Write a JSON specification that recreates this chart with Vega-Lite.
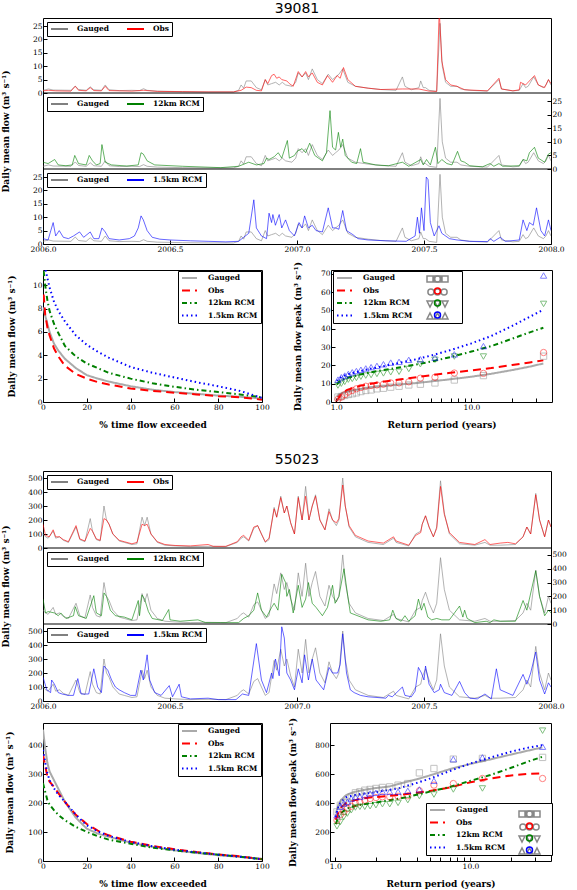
{
"$schema":"https://vega.github.io/schema/vega-lite/v6.json",
"padding":{"left":0,"top":1,"right":0,"bottom":0},
"config":{
 "view":{"stroke":"black","strokeWidth":1},
 "axis":{"domain":false,"grid":false,"tickSize":-4,"tickColor":"black","tickWidth":1,"labelFont":"DejaVu Serif","labelFontSize":7.5,"labelColor":"black","labelPadding":5,"titleFont":"DejaVu Serif","titleFontSize":9,"titleFontWeight":"bold","titleColor":"black","labelFlush":false,"labelOverlap":false},
 "axisY":{"labelOverlap":false},
 "legend":{"strokeColor":"black","fillColor":"white","padding":3,"labelFont":"DejaVu Serif","labelFontSize":7.5,"labelFontWeight":"bold","labelColor":"black","symbolOpacity":1,"symbolStrokeWidth":2,"rowPadding":4.5,"cornerRadius":0},
 "title":{"font":"DejaVu Sans","fontSize":14,"fontWeight":"normal","color":"black","offset":2}
},
"datasets":{
"one":[{"k":1}],
"g1":[{"t":2006,"v":1},{"t":2006.022,"v":1.5},{"t":2006.04,"v":1.1},{"t":2006.11,"v":1},{"t":2006.127,"v":2.6},{"t":2006.14,"v":1.3},{"t":2006.17,"v":1},{"t":2006.186,"v":2.3},{"t":2006.2,"v":1.2},{"t":2006.23,"v":1},{"t":2006.245,"v":3},{"t":2006.26,"v":1.2},{"t":2006.3,"v":0.9},{"t":2006.35,"v":1},{"t":2006.38,"v":0.9},{"t":2006.396,"v":1.6},{"t":2006.41,"v":1},{"t":2006.45,"v":0.7},{"t":2006.55,"v":0.5},{"t":2006.65,"v":0.4},{"t":2006.75,"v":0.4},{"t":2006.77,"v":1},{"t":2006.78,"v":3},{"t":2006.79,"v":1.8},{"t":2006.8,"v":4.5},{"t":2006.82,"v":4.5},{"t":2006.84,"v":2},{"t":2006.86,"v":1.2},{"t":2006.875,"v":5},{"t":2006.885,"v":3},{"t":2006.9,"v":3.5},{"t":2006.916,"v":4},{"t":2006.93,"v":3},{"t":2006.942,"v":4},{"t":2006.955,"v":3},{"t":2006.98,"v":2.5},{"t":2006.995,"v":4},{"t":2007.005,"v":7.5},{"t":2007.02,"v":6},{"t":2007.034,"v":7.5},{"t":2007.045,"v":5},{"t":2007.06,"v":9},{"t":2007.08,"v":5},{"t":2007.1,"v":3.5},{"t":2007.123,"v":7},{"t":2007.14,"v":5},{"t":2007.152,"v":6},{"t":2007.165,"v":7},{"t":2007.18,"v":9},{"t":2007.2,"v":4},{"t":2007.23,"v":2.5},{"t":2007.28,"v":1.8},{"t":2007.33,"v":1.3},{"t":2007.39,"v":1},{"t":2007.415,"v":6},{"t":2007.425,"v":2.5},{"t":2007.45,"v":1.2},{"t":2007.48,"v":2},{"t":2007.487,"v":4.5},{"t":2007.497,"v":2},{"t":2007.506,"v":2},{"t":2007.52,"v":1},{"t":2007.55,"v":0.6},{"t":2007.563,"v":26},{"t":2007.572,"v":10},{"t":2007.585,"v":4},{"t":2007.605,"v":2.5},{"t":2007.63,"v":2.5},{"t":2007.645,"v":1.5},{"t":2007.68,"v":1},{"t":2007.75,"v":0.7},{"t":2007.795,"v":5},{"t":2007.805,"v":1.5},{"t":2007.85,"v":0.8},{"t":2007.875,"v":1},{"t":2007.89,"v":3.5},{"t":2007.9,"v":2},{"t":2007.91,"v":2.5},{"t":2007.932,"v":6},{"t":2007.95,"v":3},{"t":2007.97,"v":2},{"t":2007.98,"v":3},{"t":2007.99,"v":5},{"t":2008,"v":3}],
"o1":[{"t":2006,"v":0.8},{"t":2006.022,"v":1},{"t":2006.05,"v":0.8},{"t":2006.11,"v":0.7},{"t":2006.127,"v":2.5},{"t":2006.14,"v":1},{"t":2006.17,"v":0.8},{"t":2006.186,"v":2},{"t":2006.2,"v":0.9},{"t":2006.23,"v":0.8},{"t":2006.245,"v":2.5},{"t":2006.26,"v":0.9},{"t":2006.35,"v":0.7},{"t":2006.396,"v":1},{"t":2006.45,"v":0.6},{"t":2006.55,"v":0.5},{"t":2006.65,"v":0.4},{"t":2006.75,"v":0.4},{"t":2006.78,"v":1},{"t":2006.8,"v":2.2},{"t":2006.82,"v":2},{"t":2006.84,"v":1},{"t":2006.86,"v":0.8},{"t":2006.875,"v":5},{"t":2006.885,"v":3.5},{"t":2006.9,"v":6.5},{"t":2006.91,"v":7},{"t":2006.92,"v":5.5},{"t":2006.93,"v":6},{"t":2006.94,"v":5},{"t":2006.96,"v":4.5},{"t":2006.97,"v":3.5},{"t":2006.985,"v":2.5},{"t":2007.005,"v":8},{"t":2007.02,"v":6},{"t":2007.034,"v":8},{"t":2007.045,"v":6},{"t":2007.06,"v":7.5},{"t":2007.08,"v":4},{"t":2007.1,"v":3},{"t":2007.12,"v":6.5},{"t":2007.14,"v":4},{"t":2007.158,"v":6.5},{"t":2007.17,"v":5.5},{"t":2007.183,"v":9.5},{"t":2007.2,"v":5},{"t":2007.23,"v":2.5},{"t":2007.28,"v":1.8},{"t":2007.33,"v":1.3},{"t":2007.415,"v":1.5},{"t":2007.48,"v":1.5},{"t":2007.52,"v":0.7},{"t":2007.55,"v":0.6},{"t":2007.56,"v":31},{"t":2007.57,"v":12},{"t":2007.585,"v":5},{"t":2007.605,"v":3},{"t":2007.63,"v":2.5},{"t":2007.66,"v":1.2},{"t":2007.75,"v":0.8},{"t":2007.795,"v":5.5},{"t":2007.805,"v":1.5},{"t":2007.85,"v":0.8},{"t":2007.875,"v":1.2},{"t":2007.88,"v":4},{"t":2007.9,"v":3},{"t":2007.935,"v":6.5},{"t":2007.95,"v":3},{"t":2007.975,"v":2},{"t":2007.99,"v":5},{"t":2008,"v":3.5}],
"a1":[{"t":2006,"v":2.5},{"t":2006.02,"v":2},{"t":2006.046,"v":3.5},{"t":2006.06,"v":1.5},{"t":2006.09,"v":1.2},{"t":2006.115,"v":1.5},{"t":2006.125,"v":5},{"t":2006.14,"v":2},{"t":2006.17,"v":1.5},{"t":2006.182,"v":5},{"t":2006.195,"v":3},{"t":2006.21,"v":1.5},{"t":2006.225,"v":2},{"t":2006.232,"v":9},{"t":2006.245,"v":2.5},{"t":2006.27,"v":1.5},{"t":2006.33,"v":1.1},{"t":2006.375,"v":1.5},{"t":2006.386,"v":6},{"t":2006.395,"v":5.5},{"t":2006.41,"v":3},{"t":2006.44,"v":1.5},{"t":2006.55,"v":1},{"t":2006.7,"v":0.5},{"t":2006.77,"v":1},{"t":2006.81,"v":2.5},{"t":2006.84,"v":1.5},{"t":2006.87,"v":2},{"t":2006.88,"v":4},{"t":2006.89,"v":3.5},{"t":2006.91,"v":4.5},{"t":2006.926,"v":6},{"t":2006.94,"v":4},{"t":2006.962,"v":10.5},{"t":2006.97,"v":4},{"t":2006.99,"v":5},{"t":2007,"v":6.5},{"t":2007.02,"v":7.5},{"t":2007.034,"v":6},{"t":2007.05,"v":9.5},{"t":2007.07,"v":5},{"t":2007.1,"v":3},{"t":2007.116,"v":6},{"t":2007.13,"v":21.5},{"t":2007.14,"v":8},{"t":2007.152,"v":7},{"t":2007.163,"v":13.5},{"t":2007.172,"v":8},{"t":2007.18,"v":11},{"t":2007.19,"v":5},{"t":2007.215,"v":2.5},{"t":2007.235,"v":2},{"t":2007.25,"v":7.5},{"t":2007.26,"v":2.5},{"t":2007.31,"v":1.5},{"t":2007.36,"v":1.2},{"t":2007.415,"v":2.5},{"t":2007.44,"v":1},{"t":2007.487,"v":3.5},{"t":2007.497,"v":1.5},{"t":2007.51,"v":3.5},{"t":2007.525,"v":1.5},{"t":2007.545,"v":8},{"t":2007.555,"v":2},{"t":2007.57,"v":3.5},{"t":2007.59,"v":2},{"t":2007.61,"v":1.5},{"t":2007.632,"v":6.5},{"t":2007.645,"v":3},{"t":2007.66,"v":2.5},{"t":2007.68,"v":1.2},{"t":2007.73,"v":0.8},{"t":2007.76,"v":2},{"t":2007.775,"v":1},{"t":2007.795,"v":2},{"t":2007.81,"v":1},{"t":2007.875,"v":1.2},{"t":2007.89,"v":3.5},{"t":2007.905,"v":3},{"t":2007.915,"v":6},{"t":2007.935,"v":8},{"t":2007.95,"v":4},{"t":2007.975,"v":2.5},{"t":2007.99,"v":5.5},{"t":2008,"v":6}],
"b1":[{"t":2006,"v":2},{"t":2006.02,"v":1.5},{"t":2006.04,"v":8},{"t":2006.05,"v":3},{"t":2006.064,"v":5},{"t":2006.08,"v":2.5},{"t":2006.1,"v":2},{"t":2006.12,"v":3},{"t":2006.144,"v":4.5},{"t":2006.16,"v":2.5},{"t":2006.186,"v":4.5},{"t":2006.2,"v":2},{"t":2006.22,"v":2},{"t":2006.232,"v":6},{"t":2006.245,"v":4.5},{"t":2006.26,"v":2},{"t":2006.3,"v":1.5},{"t":2006.34,"v":2},{"t":2006.36,"v":3},{"t":2006.375,"v":6},{"t":2006.386,"v":10.5},{"t":2006.395,"v":9},{"t":2006.41,"v":5},{"t":2006.43,"v":2.5},{"t":2006.46,"v":1.8},{"t":2006.5,"v":1.5},{"t":2006.58,"v":1.2},{"t":2006.65,"v":1},{"t":2006.72,"v":0.8},{"t":2006.77,"v":1},{"t":2006.79,"v":2.5},{"t":2006.81,"v":4},{"t":2006.83,"v":16.5},{"t":2006.84,"v":6},{"t":2006.86,"v":3},{"t":2006.88,"v":2},{"t":2006.89,"v":11.5},{"t":2006.9,"v":8},{"t":2006.905,"v":11},{"t":2006.915,"v":7},{"t":2006.93,"v":11},{"t":2006.94,"v":6},{"t":2006.955,"v":9},{"t":2006.97,"v":5},{"t":2006.99,"v":3},{"t":2007.008,"v":8},{"t":2007.02,"v":6},{"t":2007.03,"v":10.5},{"t":2007.045,"v":6},{"t":2007.06,"v":7},{"t":2007.075,"v":5},{"t":2007.1,"v":4.5},{"t":2007.123,"v":13.5},{"t":2007.14,"v":6},{"t":2007.152,"v":6},{"t":2007.165,"v":5.5},{"t":2007.18,"v":12.5},{"t":2007.195,"v":5},{"t":2007.22,"v":3.5},{"t":2007.24,"v":2},{"t":2007.28,"v":1.5},{"t":2007.35,"v":1.2},{"t":2007.43,"v":1},{"t":2007.465,"v":3},{"t":2007.474,"v":10},{"t":2007.482,"v":4},{"t":2007.49,"v":13.5},{"t":2007.5,"v":5},{"t":2007.509,"v":25},{"t":2007.516,"v":24},{"t":2007.525,"v":8},{"t":2007.54,"v":3},{"t":2007.559,"v":6.8},{"t":2007.57,"v":4},{"t":2007.6,"v":2},{"t":2007.63,"v":1.5},{"t":2007.68,"v":1},{"t":2007.75,"v":0.9},{"t":2007.76,"v":2},{"t":2007.775,"v":1},{"t":2007.8,"v":2.5},{"t":2007.82,"v":1},{"t":2007.875,"v":1.5},{"t":2007.89,"v":9},{"t":2007.905,"v":5},{"t":2007.915,"v":8},{"t":2007.93,"v":7},{"t":2007.943,"v":13.5},{"t":2007.96,"v":5},{"t":2007.975,"v":3},{"t":2007.99,"v":9},{"t":2008,"v":5}],
"g2":[{"t":2006,"v":100},{"t":2006.01,"v":80},{"t":2006.02,"v":70},{"t":2006.04,"v":120},{"t":2006.05,"v":70},{"t":2006.065,"v":80},{"t":2006.08,"v":55},{"t":2006.1,"v":40},{"t":2006.13,"v":150},{"t":2006.145,"v":60},{"t":2006.165,"v":45},{"t":2006.186,"v":210},{"t":2006.195,"v":120},{"t":2006.21,"v":60},{"t":2006.225,"v":50},{"t":2006.24,"v":300},{"t":2006.25,"v":200},{"t":2006.26,"v":170},{"t":2006.275,"v":100},{"t":2006.3,"v":50},{"t":2006.32,"v":40},{"t":2006.35,"v":25},{"t":2006.37,"v":30},{"t":2006.39,"v":220},{"t":2006.4,"v":160},{"t":2006.41,"v":220},{"t":2006.425,"v":100},{"t":2006.45,"v":40},{"t":2006.48,"v":20},{"t":2006.52,"v":15},{"t":2006.58,"v":10},{"t":2006.65,"v":12},{"t":2006.72,"v":10},{"t":2006.765,"v":40},{"t":2006.78,"v":70},{"t":2006.79,"v":80},{"t":2006.81,"v":50},{"t":2006.83,"v":140},{"t":2006.845,"v":160},{"t":2006.86,"v":100},{"t":2006.875,"v":40},{"t":2006.89,"v":60},{"t":2006.91,"v":290},{"t":2006.92,"v":220},{"t":2006.936,"v":370},{"t":2006.95,"v":250},{"t":2006.96,"v":300},{"t":2006.975,"v":180},{"t":2006.99,"v":100},{"t":2007.005,"v":370},{"t":2007.02,"v":200},{"t":2007.034,"v":440},{"t":2007.047,"v":200},{"t":2007.06,"v":300},{"t":2007.073,"v":380},{"t":2007.09,"v":200},{"t":2007.11,"v":130},{"t":2007.126,"v":280},{"t":2007.14,"v":200},{"t":2007.155,"v":160},{"t":2007.165,"v":200},{"t":2007.18,"v":500},{"t":2007.19,"v":300},{"t":2007.205,"v":150},{"t":2007.23,"v":80},{"t":2007.28,"v":40},{"t":2007.34,"v":25},{"t":2007.38,"v":70},{"t":2007.39,"v":40},{"t":2007.44,"v":15},{"t":2007.467,"v":100},{"t":2007.487,"v":120},{"t":2007.493,"v":170},{"t":2007.506,"v":230},{"t":2007.52,"v":150},{"t":2007.537,"v":80},{"t":2007.55,"v":150},{"t":2007.565,"v":480},{"t":2007.58,"v":250},{"t":2007.6,"v":100},{"t":2007.64,"v":30},{"t":2007.7,"v":20},{"t":2007.74,"v":40},{"t":2007.76,"v":20},{"t":2007.8,"v":20},{"t":2007.86,"v":25},{"t":2007.89,"v":80},{"t":2007.905,"v":150},{"t":2007.92,"v":100},{"t":2007.94,"v":390},{"t":2007.955,"v":200},{"t":2007.975,"v":80},{"t":2007.99,"v":200},{"t":2008,"v":150}],
"o2":[{"t":2006,"v":170},{"t":2006.01,"v":90},{"t":2006.025,"v":80},{"t":2006.04,"v":130},{"t":2006.05,"v":80},{"t":2006.065,"v":80},{"t":2006.08,"v":60},{"t":2006.1,"v":45},{"t":2006.13,"v":160},{"t":2006.145,"v":65},{"t":2006.165,"v":50},{"t":2006.186,"v":140},{"t":2006.195,"v":120},{"t":2006.21,"v":65},{"t":2006.225,"v":55},{"t":2006.24,"v":210},{"t":2006.25,"v":200},{"t":2006.26,"v":170},{"t":2006.275,"v":100},{"t":2006.3,"v":55},{"t":2006.32,"v":45},{"t":2006.35,"v":30},{"t":2006.37,"v":40},{"t":2006.39,"v":170},{"t":2006.4,"v":160},{"t":2006.41,"v":170},{"t":2006.425,"v":100},{"t":2006.45,"v":45},{"t":2006.48,"v":25},{"t":2006.52,"v":18},{"t":2006.58,"v":15},{"t":2006.65,"v":25},{"t":2006.67,"v":12},{"t":2006.72,"v":12},{"t":2006.765,"v":45},{"t":2006.78,"v":80},{"t":2006.79,"v":90},{"t":2006.81,"v":55},{"t":2006.83,"v":150},{"t":2006.845,"v":160},{"t":2006.86,"v":100},{"t":2006.875,"v":45},{"t":2006.89,"v":70},{"t":2006.91,"v":280},{"t":2006.92,"v":220},{"t":2006.936,"v":360},{"t":2006.95,"v":250},{"t":2006.96,"v":300},{"t":2006.975,"v":180},{"t":2006.99,"v":100},{"t":2007.005,"v":360},{"t":2007.02,"v":200},{"t":2007.034,"v":370},{"t":2007.047,"v":200},{"t":2007.06,"v":300},{"t":2007.073,"v":370},{"t":2007.09,"v":200},{"t":2007.11,"v":130},{"t":2007.126,"v":260},{"t":2007.14,"v":200},{"t":2007.155,"v":180},{"t":2007.165,"v":210},{"t":2007.18,"v":450},{"t":2007.19,"v":300},{"t":2007.205,"v":160},{"t":2007.23,"v":90},{"t":2007.28,"v":50},{"t":2007.34,"v":35},{"t":2007.38,"v":80},{"t":2007.39,"v":50},{"t":2007.44,"v":20},{"t":2007.467,"v":90},{"t":2007.487,"v":110},{"t":2007.493,"v":170},{"t":2007.506,"v":230},{"t":2007.52,"v":150},{"t":2007.537,"v":80},{"t":2007.55,"v":140},{"t":2007.565,"v":440},{"t":2007.58,"v":240},{"t":2007.6,"v":110},{"t":2007.64,"v":40},{"t":2007.7,"v":25},{"t":2007.74,"v":60},{"t":2007.76,"v":25},{"t":2007.8,"v":35},{"t":2007.83,"v":40},{"t":2007.86,"v":30},{"t":2007.89,"v":80},{"t":2007.905,"v":150},{"t":2007.92,"v":100},{"t":2007.94,"v":380},{"t":2007.955,"v":200},{"t":2007.975,"v":80},{"t":2007.99,"v":200},{"t":2008,"v":150}],
"a2":[{"t":2006,"v":180},{"t":2006.01,"v":80},{"t":2006.02,"v":90},{"t":2006.045,"v":80},{"t":2006.06,"v":60},{"t":2006.07,"v":80},{"t":2006.09,"v":40},{"t":2006.12,"v":60},{"t":2006.127,"v":125},{"t":2006.14,"v":60},{"t":2006.17,"v":40},{"t":2006.2,"v":205},{"t":2006.21,"v":80},{"t":2006.23,"v":60},{"t":2006.24,"v":225},{"t":2006.25,"v":200},{"t":2006.265,"v":100},{"t":2006.285,"v":60},{"t":2006.32,"v":50},{"t":2006.35,"v":30},{"t":2006.375,"v":170},{"t":2006.38,"v":60},{"t":2006.39,"v":210},{"t":2006.4,"v":180},{"t":2006.415,"v":90},{"t":2006.43,"v":40},{"t":2006.47,"v":25},{"t":2006.495,"v":105},{"t":2006.5,"v":30},{"t":2006.54,"v":20},{"t":2006.61,"v":30},{"t":2006.64,"v":10},{"t":2006.7,"v":10},{"t":2006.77,"v":10},{"t":2006.79,"v":40},{"t":2006.81,"v":60},{"t":2006.83,"v":100},{"t":2006.845,"v":225},{"t":2006.86,"v":100},{"t":2006.88,"v":50},{"t":2006.9,"v":120},{"t":2006.91,"v":150},{"t":2006.925,"v":100},{"t":2006.94,"v":360},{"t":2006.955,"v":300},{"t":2006.96,"v":200},{"t":2006.97,"v":250},{"t":2006.985,"v":80},{"t":2007.005,"v":280},{"t":2007.02,"v":120},{"t":2007.034,"v":180},{"t":2007.045,"v":300},{"t":2007.06,"v":150},{"t":2007.075,"v":120},{"t":2007.1,"v":60},{"t":2007.12,"v":120},{"t":2007.14,"v":280},{"t":2007.15,"v":150},{"t":2007.165,"v":200},{"t":2007.185,"v":400},{"t":2007.2,"v":200},{"t":2007.21,"v":80},{"t":2007.28,"v":30},{"t":2007.33,"v":20},{"t":2007.365,"v":30},{"t":2007.377,"v":100},{"t":2007.39,"v":40},{"t":2007.41,"v":20},{"t":2007.425,"v":60},{"t":2007.44,"v":20},{"t":2007.465,"v":60},{"t":2007.478,"v":180},{"t":2007.49,"v":100},{"t":2007.5,"v":150},{"t":2007.515,"v":50},{"t":2007.53,"v":30},{"t":2007.55,"v":40},{"t":2007.57,"v":30},{"t":2007.6,"v":30},{"t":2007.64,"v":130},{"t":2007.653,"v":50},{"t":2007.66,"v":100},{"t":2007.67,"v":40},{"t":2007.7,"v":10},{"t":2007.745,"v":20},{"t":2007.76,"v":10},{"t":2007.775,"v":30},{"t":2007.8,"v":20},{"t":2007.86,"v":20},{"t":2007.89,"v":170},{"t":2007.905,"v":100},{"t":2007.94,"v":385},{"t":2007.955,"v":200},{"t":2007.975,"v":60},{"t":2007.99,"v":100},{"t":2008,"v":80}],
"b2":[{"t":2006,"v":170},{"t":2006.015,"v":80},{"t":2006.03,"v":60},{"t":2006.034,"v":150},{"t":2006.045,"v":120},{"t":2006.06,"v":60},{"t":2006.075,"v":50},{"t":2006.1,"v":40},{"t":2006.12,"v":40},{"t":2006.137,"v":160},{"t":2006.15,"v":50},{"t":2006.18,"v":50},{"t":2006.2,"v":230},{"t":2006.215,"v":100},{"t":2006.23,"v":60},{"t":2006.24,"v":250},{"t":2006.255,"v":220},{"t":2006.27,"v":150},{"t":2006.285,"v":100},{"t":2006.3,"v":80},{"t":2006.32,"v":60},{"t":2006.345,"v":40},{"t":2006.365,"v":40},{"t":2006.385,"v":220},{"t":2006.395,"v":150},{"t":2006.41,"v":330},{"t":2006.42,"v":150},{"t":2006.44,"v":60},{"t":2006.465,"v":40},{"t":2006.497,"v":110},{"t":2006.51,"v":30},{"t":2006.536,"v":120},{"t":2006.545,"v":30},{"t":2006.58,"v":15},{"t":2006.65,"v":20},{"t":2006.69,"v":10},{"t":2006.76,"v":10},{"t":2006.785,"v":50},{"t":2006.81,"v":40},{"t":2006.84,"v":410},{"t":2006.86,"v":150},{"t":2006.88,"v":60},{"t":2006.9,"v":200},{"t":2006.905,"v":160},{"t":2006.915,"v":300},{"t":2006.93,"v":180},{"t":2006.94,"v":530},{"t":2006.95,"v":450},{"t":2006.96,"v":200},{"t":2006.975,"v":150},{"t":2006.99,"v":80},{"t":2007.005,"v":230},{"t":2007.02,"v":130},{"t":2007.03,"v":330},{"t":2007.045,"v":150},{"t":2007.06,"v":300},{"t":2007.075,"v":150},{"t":2007.105,"v":80},{"t":2007.126,"v":240},{"t":2007.14,"v":200},{"t":2007.16,"v":200},{"t":2007.17,"v":260},{"t":2007.18,"v":480},{"t":2007.195,"v":200},{"t":2007.21,"v":80},{"t":2007.225,"v":60},{"t":2007.25,"v":40},{"t":2007.28,"v":30},{"t":2007.35,"v":20},{"t":2007.36,"v":40},{"t":2007.375,"v":30},{"t":2007.415,"v":100},{"t":2007.425,"v":40},{"t":2007.45,"v":30},{"t":2007.465,"v":70},{"t":2007.478,"v":240},{"t":2007.49,"v":200},{"t":2007.5,"v":150},{"t":2007.506,"v":250},{"t":2007.52,"v":120},{"t":2007.54,"v":60},{"t":2007.56,"v":80},{"t":2007.565,"v":120},{"t":2007.58,"v":60},{"t":2007.61,"v":40},{"t":2007.64,"v":140},{"t":2007.66,"v":60},{"t":2007.68,"v":20},{"t":2007.71,"v":15},{"t":2007.74,"v":50},{"t":2007.765,"v":15},{"t":2007.785,"v":230},{"t":2007.8,"v":80},{"t":2007.85,"v":40},{"t":2007.89,"v":190},{"t":2007.905,"v":120},{"t":2007.92,"v":200},{"t":2007.94,"v":350},{"t":2007.955,"v":150},{"t":2007.975,"v":50},{"t":2007.99,"v":130},{"t":2008,"v":100}],
"fdc1":[
{"s":"Gauged","p":0.3,"v":8.1},{"s":"Gauged","p":1,"v":7.4},{"s":"Gauged","p":2,"v":6.7},{"s":"Gauged","p":3,"v":6.0},{"s":"Gauged","p":5,"v":5.0},{"s":"Gauged","p":7,"v":4.4},{"s":"Gauged","p":10,"v":3.7},{"s":"Gauged","p":15,"v":2.9},{"s":"Gauged","p":20,"v":2.3},{"s":"Gauged","p":25,"v":2.0},{"s":"Gauged","p":30,"v":1.75},{"s":"Gauged","p":40,"v":1.35},{"s":"Gauged","p":50,"v":1.05},{"s":"Gauged","p":60,"v":0.85},{"s":"Gauged","p":70,"v":0.7},{"s":"Gauged","p":80,"v":0.55},{"s":"Gauged","p":90,"v":0.45},{"s":"Gauged","p":100,"v":0.3},
{"s":"Obs","p":0.3,"v":9.2},{"s":"Obs","p":1,"v":7.5},{"s":"Obs","p":2,"v":6.4},{"s":"Obs","p":3,"v":5.7},{"s":"Obs","p":5,"v":4.6},{"s":"Obs","p":7,"v":3.9},{"s":"Obs","p":10,"v":3.1},{"s":"Obs","p":15,"v":2.4},{"s":"Obs","p":20,"v":2.0},{"s":"Obs","p":25,"v":1.7},{"s":"Obs","p":30,"v":1.5},{"s":"Obs","p":40,"v":1.15},{"s":"Obs","p":50,"v":0.95},{"s":"Obs","p":60,"v":0.8},{"s":"Obs","p":70,"v":0.65},{"s":"Obs","p":80,"v":0.5},{"s":"Obs","p":90,"v":0.4},{"s":"Obs","p":100,"v":0.2},
{"s":"12km RCM","p":0.3,"v":11.2},{"s":"12km RCM","p":1,"v":10.0},{"s":"12km RCM","p":2,"v":8.7},{"s":"12km RCM","p":3,"v":7.8},{"s":"12km RCM","p":5,"v":6.7},{"s":"12km RCM","p":7,"v":5.9},{"s":"12km RCM","p":10,"v":4.8},{"s":"12km RCM","p":15,"v":3.9},{"s":"12km RCM","p":20,"v":3.3},{"s":"12km RCM","p":25,"v":2.9},{"s":"12km RCM","p":30,"v":2.5},{"s":"12km RCM","p":40,"v":2.0},{"s":"12km RCM","p":50,"v":1.6},{"s":"12km RCM","p":60,"v":1.3},{"s":"12km RCM","p":70,"v":1.05},{"s":"12km RCM","p":80,"v":0.85},{"s":"12km RCM","p":90,"v":0.65},{"s":"12km RCM","p":100,"v":0.4},
{"s":"1.5km RCM","p":1.2,"v":11.3},{"s":"1.5km RCM","p":2,"v":10.6},{"s":"1.5km RCM","p":3,"v":9.8},{"s":"1.5km RCM","p":5,"v":8.6},{"s":"1.5km RCM","p":7,"v":7.8},{"s":"1.5km RCM","p":10,"v":6.9},{"s":"1.5km RCM","p":15,"v":5.7},{"s":"1.5km RCM","p":20,"v":4.9},{"s":"1.5km RCM","p":25,"v":4.3},{"s":"1.5km RCM","p":30,"v":3.8},{"s":"1.5km RCM","p":40,"v":3.0},{"s":"1.5km RCM","p":50,"v":2.5},{"s":"1.5km RCM","p":60,"v":2.1},{"s":"1.5km RCM","p":70,"v":1.7},{"s":"1.5km RCM","p":80,"v":1.35},{"s":"1.5km RCM","p":90,"v":0.95},{"s":"1.5km RCM","p":100,"v":0.35}],
"fdc2":[
{"s":"Gauged","p":0,"v":455},{"s":"Gauged","p":1,"v":390},{"s":"Gauged","p":2,"v":340},{"s":"Gauged","p":3,"v":310},{"s":"Gauged","p":5,"v":280},{"s":"Gauged","p":7,"v":250},{"s":"Gauged","p":10,"v":205},{"s":"Gauged","p":15,"v":150},{"s":"Gauged","p":20,"v":112},{"s":"Gauged","p":25,"v":95},{"s":"Gauged","p":30,"v":84},{"s":"Gauged","p":40,"v":64},{"s":"Gauged","p":50,"v":49},{"s":"Gauged","p":60,"v":37},{"s":"Gauged","p":70,"v":28},{"s":"Gauged","p":80,"v":20},{"s":"Gauged","p":90,"v":14},{"s":"Gauged","p":100,"v":8},
{"s":"Obs","p":0,"v":368},{"s":"Obs","p":1,"v":330},{"s":"Obs","p":2,"v":292},{"s":"Obs","p":3,"v":275},{"s":"Obs","p":5,"v":257},{"s":"Obs","p":7,"v":235},{"s":"Obs","p":10,"v":205},{"s":"Obs","p":15,"v":160},{"s":"Obs","p":20,"v":128},{"s":"Obs","p":25,"v":105},{"s":"Obs","p":30,"v":89},{"s":"Obs","p":40,"v":67},{"s":"Obs","p":50,"v":52},{"s":"Obs","p":60,"v":41},{"s":"Obs","p":70,"v":31},{"s":"Obs","p":80,"v":23},{"s":"Obs","p":90,"v":16},{"s":"Obs","p":100,"v":6},
{"s":"12km RCM","p":0,"v":269},{"s":"12km RCM","p":1,"v":240},{"s":"12km RCM","p":2,"v":211},{"s":"12km RCM","p":3,"v":195},{"s":"12km RCM","p":5,"v":176},{"s":"12km RCM","p":7,"v":160},{"s":"12km RCM","p":10,"v":141},{"s":"12km RCM","p":15,"v":118},{"s":"12km RCM","p":20,"v":101},{"s":"12km RCM","p":25,"v":86},{"s":"12km RCM","p":30,"v":74},{"s":"12km RCM","p":40,"v":60},{"s":"12km RCM","p":50,"v":46},{"s":"12km RCM","p":60,"v":37},{"s":"12km RCM","p":70,"v":29},{"s":"12km RCM","p":80,"v":22},{"s":"12km RCM","p":90,"v":15},{"s":"12km RCM","p":100,"v":6},
{"s":"1.5km RCM","p":0,"v":385},{"s":"1.5km RCM","p":1,"v":340},{"s":"1.5km RCM","p":2,"v":304},{"s":"1.5km RCM","p":3,"v":280},{"s":"1.5km RCM","p":5,"v":252},{"s":"1.5km RCM","p":7,"v":230},{"s":"1.5km RCM","p":10,"v":205},{"s":"1.5km RCM","p":15,"v":160},{"s":"1.5km RCM","p":20,"v":124},{"s":"1.5km RCM","p":25,"v":103},{"s":"1.5km RCM","p":30,"v":87},{"s":"1.5km RCM","p":40,"v":66},{"s":"1.5km RCM","p":50,"v":51},{"s":"1.5km RCM","p":60,"v":39},{"s":"1.5km RCM","p":70,"v":30},{"s":"1.5km RCM","p":80,"v":22},{"s":"1.5km RCM","p":90,"v":15},{"s":"1.5km RCM","p":100,"v":6}],
"rl1":[
{"s":"Gauged","T":1.01,"v":3.0},{"s":"Gauged","T":1.05,"v":4.0},{"s":"Gauged","T":1.1,"v":4.8},{"s":"Gauged","T":1.2,"v":5.7},{"s":"Gauged","T":1.35,"v":6.5},{"s":"Gauged","T":1.5,"v":7.0},{"s":"Gauged","T":1.75,"v":7.8},{"s":"Gauged","T":2,"v":8.3},{"s":"Gauged","T":2.5,"v":9.0},{"s":"Gauged","T":3,"v":9.6},{"s":"Gauged","T":4,"v":10.4},{"s":"Gauged","T":5,"v":11.2},{"s":"Gauged","T":7,"v":12.4},{"s":"Gauged","T":10,"v":13.8},{"s":"Gauged","T":14,"v":15.4},{"s":"Gauged","T":20,"v":17.4},{"s":"Gauged","T":27,"v":19.3},{"s":"Gauged","T":34,"v":21.0},
{"s":"Obs","T":1.01,"v":0.5},{"s":"Obs","T":1.05,"v":2.5},{"s":"Obs","T":1.1,"v":4.5},{"s":"Obs","T":1.2,"v":6.5},{"s":"Obs","T":1.35,"v":7.8},{"s":"Obs","T":1.5,"v":8.8},{"s":"Obs","T":1.75,"v":9.8},{"s":"Obs","T":2,"v":10.5},{"s":"Obs","T":2.5,"v":11.6},{"s":"Obs","T":3,"v":12.4},{"s":"Obs","T":4,"v":13.6},{"s":"Obs","T":5,"v":14.6},{"s":"Obs","T":7,"v":15.9},{"s":"Obs","T":10,"v":17.2},{"s":"Obs","T":14,"v":18.5},{"s":"Obs","T":20,"v":20.2},{"s":"Obs","T":27,"v":21.6},{"s":"Obs","T":34,"v":22.7},
{"s":"12km RCM","T":1.01,"v":9.5},{"s":"12km RCM","T":1.05,"v":11.0},{"s":"12km RCM","T":1.1,"v":12.0},{"s":"12km RCM","T":1.2,"v":13.0},{"s":"12km RCM","T":1.35,"v":14.0},{"s":"12km RCM","T":1.5,"v":15.0},{"s":"12km RCM","T":1.75,"v":16.0},{"s":"12km RCM","T":2,"v":16.8},{"s":"12km RCM","T":2.5,"v":18.0},{"s":"12km RCM","T":3,"v":19.0},{"s":"12km RCM","T":4,"v":20.6},{"s":"12km RCM","T":5,"v":22.0},{"s":"12km RCM","T":7,"v":24.5},{"s":"12km RCM","T":10,"v":27.5},{"s":"12km RCM","T":14,"v":30.5},{"s":"12km RCM","T":20,"v":34.5},{"s":"12km RCM","T":27,"v":38.0},{"s":"12km RCM","T":34,"v":40.5},
{"s":"1.5km RCM","T":1.01,"v":11.5},{"s":"1.5km RCM","T":1.05,"v":12.8},{"s":"1.5km RCM","T":1.1,"v":13.8},{"s":"1.5km RCM","T":1.2,"v":15.0},{"s":"1.5km RCM","T":1.35,"v":16.0},{"s":"1.5km RCM","T":1.5,"v":16.8},{"s":"1.5km RCM","T":1.75,"v":18.0},{"s":"1.5km RCM","T":2,"v":18.8},{"s":"1.5km RCM","T":2.5,"v":20.3},{"s":"1.5km RCM","T":3,"v":21.5},{"s":"1.5km RCM","T":4,"v":23.5},{"s":"1.5km RCM","T":5,"v":25.3},{"s":"1.5km RCM","T":7,"v":28.3},{"s":"1.5km RCM","T":10,"v":32.0},{"s":"1.5km RCM","T":14,"v":36.0},{"s":"1.5km RCM","T":20,"v":41.5},{"s":"1.5km RCM","T":27,"v":46.5},{"s":"1.5km RCM","T":34,"v":50.3}],
"rl2":[
{"s":"Gauged","T":1.01,"v":330},{"s":"Gauged","T":1.05,"v":380},{"s":"Gauged","T":1.1,"v":420},{"s":"Gauged","T":1.2,"v":455},{"s":"Gauged","T":1.35,"v":475},{"s":"Gauged","T":1.5,"v":485},{"s":"Gauged","T":1.75,"v":497},{"s":"Gauged","T":2,"v":505},{"s":"Gauged","T":2.5,"v":515},{"s":"Gauged","T":3,"v":535},{"s":"Gauged","T":4,"v":565},{"s":"Gauged","T":5,"v":592},{"s":"Gauged","T":7,"v":635},{"s":"Gauged","T":10,"v":672},{"s":"Gauged","T":14,"v":703},{"s":"Gauged","T":20,"v":737},{"s":"Gauged","T":27,"v":765},{"s":"Gauged","T":34,"v":786},
{"s":"Obs","T":1.01,"v":285},{"s":"Obs","T":1.05,"v":330},{"s":"Obs","T":1.1,"v":370},{"s":"Obs","T":1.2,"v":400},{"s":"Obs","T":1.35,"v":418},{"s":"Obs","T":1.5,"v":428},{"s":"Obs","T":1.75,"v":438},{"s":"Obs","T":2,"v":443},{"s":"Obs","T":2.5,"v":450},{"s":"Obs","T":3,"v":458},{"s":"Obs","T":4,"v":472},{"s":"Obs","T":5,"v":485},{"s":"Obs","T":7,"v":508},{"s":"Obs","T":10,"v":545},{"s":"Obs","T":14,"v":570},{"s":"Obs","T":20,"v":592},{"s":"Obs","T":27,"v":603},{"s":"Obs","T":34,"v":606},
{"s":"12km RCM","T":1.01,"v":255},{"s":"12km RCM","T":1.05,"v":300},{"s":"12km RCM","T":1.1,"v":330},{"s":"12km RCM","T":1.2,"v":360},{"s":"12km RCM","T":1.35,"v":377},{"s":"12km RCM","T":1.5,"v":387},{"s":"12km RCM","T":1.75,"v":398},{"s":"12km RCM","T":2,"v":405},{"s":"12km RCM","T":2.5,"v":420},{"s":"12km RCM","T":3,"v":432},{"s":"12km RCM","T":4,"v":458},{"s":"12km RCM","T":5,"v":480},{"s":"12km RCM","T":7,"v":512},{"s":"12km RCM","T":10,"v":555},{"s":"12km RCM","T":14,"v":595},{"s":"12km RCM","T":20,"v":645},{"s":"12km RCM","T":27,"v":690},{"s":"12km RCM","T":34,"v":721},
{"s":"1.5km RCM","T":1.01,"v":305},{"s":"1.5km RCM","T":1.05,"v":370},{"s":"1.5km RCM","T":1.1,"v":410},{"s":"1.5km RCM","T":1.2,"v":440},{"s":"1.5km RCM","T":1.35,"v":455},{"s":"1.5km RCM","T":1.5,"v":462},{"s":"1.5km RCM","T":1.75,"v":470},{"s":"1.5km RCM","T":2,"v":476},{"s":"1.5km RCM","T":2.5,"v":492},{"s":"1.5km RCM","T":3,"v":505},{"s":"1.5km RCM","T":4,"v":540},{"s":"1.5km RCM","T":5,"v":570},{"s":"1.5km RCM","T":7,"v":622},{"s":"1.5km RCM","T":10,"v":675},{"s":"1.5km RCM","T":14,"v":715},{"s":"1.5km RCM","T":20,"v":757},{"s":"1.5km RCM","T":27,"v":785},{"s":"1.5km RCM","T":34,"v":802}],
"rp1":[
{"s":"Gauged","T":34.14,"v":25},{"s":"Gauged","T":12.26,"v":14.4},{"s":"Gauged","T":7.47,"v":12},{"s":"Gauged","T":5.37,"v":10.4},{"s":"Gauged","T":4.19,"v":9.7},{"s":"Gauged","T":3.44,"v":9.3},{"s":"Gauged","T":2.915,"v":8.6},{"s":"Gauged","T":2.529,"v":8.1},{"s":"Gauged","T":2.234,"v":7.5},{"s":"Gauged","T":2.0,"v":7.2},{"s":"Gauged","T":1.811,"v":6.6},{"s":"Gauged","T":1.654,"v":6.3},{"s":"Gauged","T":1.522,"v":5.7},{"s":"Gauged","T":1.41,"v":5.0},{"s":"Gauged","T":1.314,"v":4.5},{"s":"Gauged","T":1.229,"v":4.1},{"s":"Gauged","T":1.156,"v":3.6},{"s":"Gauged","T":1.091,"v":3.0},{"s":"Gauged","T":1.03,"v":2.7},
{"s":"Obs","T":34.14,"v":27},{"s":"Obs","T":12.26,"v":15.6},{"s":"Obs","T":7.47,"v":15.8},{"s":"Obs","T":5.37,"v":13.5},{"s":"Obs","T":4.19,"v":13},{"s":"Obs","T":3.44,"v":11},{"s":"Obs","T":2.915,"v":10.4},{"s":"Obs","T":2.529,"v":10.4},{"s":"Obs","T":2.234,"v":9.7},{"s":"Obs","T":2.0,"v":9.3},{"s":"Obs","T":1.811,"v":9},{"s":"Obs","T":1.654,"v":8.6},{"s":"Obs","T":1.522,"v":7.9},{"s":"Obs","T":1.41,"v":7.2},{"s":"Obs","T":1.314,"v":6.3},{"s":"Obs","T":1.229,"v":5.4},{"s":"Obs","T":1.156,"v":4},{"s":"Obs","T":1.091,"v":2.7},{"s":"Obs","T":1.03,"v":1.4},
{"s":"12km RCM","T":34.14,"v":53.5},{"s":"12km RCM","T":12.26,"v":24.8},{"s":"12km RCM","T":7.47,"v":24.8},{"s":"12km RCM","T":5.37,"v":23},{"s":"12km RCM","T":4.19,"v":20.6},{"s":"12km RCM","T":3.44,"v":18},{"s":"12km RCM","T":2.915,"v":16.5},{"s":"12km RCM","T":2.529,"v":16.2},{"s":"12km RCM","T":2.234,"v":15.6},{"s":"12km RCM","T":2.0,"v":15.3},{"s":"12km RCM","T":1.811,"v":14.7},{"s":"12km RCM","T":1.654,"v":14.4},{"s":"12km RCM","T":1.522,"v":13.8},{"s":"12km RCM","T":1.41,"v":13.1},{"s":"12km RCM","T":1.314,"v":12.6},{"s":"12km RCM","T":1.229,"v":12.2},{"s":"12km RCM","T":1.156,"v":11},{"s":"12km RCM","T":1.091,"v":10},{"s":"12km RCM","T":1.03,"v":9},
{"s":"1.5km RCM","T":34.14,"v":69},{"s":"1.5km RCM","T":12.26,"v":30.5},{"s":"1.5km RCM","T":7.47,"v":26},{"s":"1.5km RCM","T":5.37,"v":24.2},{"s":"1.5km RCM","T":4.19,"v":23.3},{"s":"1.5km RCM","T":3.44,"v":23},{"s":"1.5km RCM","T":2.915,"v":21.9},{"s":"1.5km RCM","T":2.529,"v":21.5},{"s":"1.5km RCM","T":2.234,"v":20.6},{"s":"1.5km RCM","T":2.0,"v":19.7},{"s":"1.5km RCM","T":1.811,"v":19},{"s":"1.5km RCM","T":1.654,"v":18.3},{"s":"1.5km RCM","T":1.522,"v":17.6},{"s":"1.5km RCM","T":1.41,"v":16.9},{"s":"1.5km RCM","T":1.314,"v":16.2},{"s":"1.5km RCM","T":1.229,"v":15.3},{"s":"1.5km RCM","T":1.156,"v":14.4},{"s":"1.5km RCM","T":1.091,"v":13.5},{"s":"1.5km RCM","T":1.03,"v":12.2}],
"rp2":[
{"s":"Gauged","T":34.14,"v":717},{"s":"Gauged","T":12.26,"v":710},{"s":"Gauged","T":7.47,"v":705},{"s":"Gauged","T":5.37,"v":640},{"s":"Gauged","T":4.19,"v":610},{"s":"Gauged","T":3.44,"v":536},{"s":"Gauged","T":2.915,"v":525},{"s":"Gauged","T":2.529,"v":513},{"s":"Gauged","T":2.234,"v":509},{"s":"Gauged","T":2.0,"v":502},{"s":"Gauged","T":1.811,"v":495},{"s":"Gauged","T":1.654,"v":490},{"s":"Gauged","T":1.522,"v":479},{"s":"Gauged","T":1.41,"v":472},{"s":"Gauged","T":1.314,"v":444},{"s":"Gauged","T":1.229,"v":409},{"s":"Gauged","T":1.156,"v":402},{"s":"Gauged","T":1.091,"v":386},{"s":"Gauged","T":1.03,"v":340},
{"s":"Obs","T":34.14,"v":571},{"s":"Obs","T":12.26,"v":571},{"s":"Obs","T":7.47,"v":536},{"s":"Obs","T":5.37,"v":525},{"s":"Obs","T":4.19,"v":486},{"s":"Obs","T":3.44,"v":451},{"s":"Obs","T":2.915,"v":448},{"s":"Obs","T":2.529,"v":444},{"s":"Obs","T":2.234,"v":444},{"s":"Obs","T":2.0,"v":439},{"s":"Obs","T":1.811,"v":432},{"s":"Obs","T":1.654,"v":421},{"s":"Obs","T":1.522,"v":409},{"s":"Obs","T":1.41,"v":398},{"s":"Obs","T":1.314,"v":379},{"s":"Obs","T":1.229,"v":363},{"s":"Obs","T":1.156,"v":340},{"s":"Obs","T":1.091,"v":321},{"s":"Obs","T":1.03,"v":282},
{"s":"12km RCM","T":34.14,"v":902},{"s":"12km RCM","T":12.26,"v":502},{"s":"12km RCM","T":7.47,"v":495},{"s":"12km RCM","T":5.37,"v":460},{"s":"12km RCM","T":4.19,"v":449},{"s":"12km RCM","T":3.44,"v":421},{"s":"12km RCM","T":2.915,"v":402},{"s":"12km RCM","T":2.529,"v":393},{"s":"12km RCM","T":2.234,"v":393},{"s":"12km RCM","T":2.0,"v":386},{"s":"12km RCM","T":1.811,"v":379},{"s":"12km RCM","T":1.654,"v":375},{"s":"12km RCM","T":1.522,"v":375},{"s":"12km RCM","T":1.41,"v":370},{"s":"12km RCM","T":1.314,"v":351},{"s":"12km RCM","T":1.229,"v":328},{"s":"12km RCM","T":1.156,"v":305},{"s":"12km RCM","T":1.091,"v":270},{"s":"12km RCM","T":1.03,"v":240},
{"s":"1.5km RCM","T":34.14,"v":791},{"s":"1.5km RCM","T":12.26,"v":717},{"s":"1.5km RCM","T":7.47,"v":705},{"s":"1.5km RCM","T":5.37,"v":555},{"s":"1.5km RCM","T":4.19,"v":495},{"s":"1.5km RCM","T":3.44,"v":486},{"s":"1.5km RCM","T":2.915,"v":479},{"s":"1.5km RCM","T":2.529,"v":479},{"s":"1.5km RCM","T":2.234,"v":479},{"s":"1.5km RCM","T":2.0,"v":472},{"s":"1.5km RCM","T":1.811,"v":467},{"s":"1.5km RCM","T":1.654,"v":455},{"s":"1.5km RCM","T":1.522,"v":444},{"s":"1.5km RCM","T":1.41,"v":444},{"s":"1.5km RCM","T":1.314,"v":432},{"s":"1.5km RCM","T":1.229,"v":409},{"s":"1.5km RCM","T":1.156,"v":398},{"s":"1.5km RCM","T":1.091,"v":375},{"s":"1.5km RCM","T":1.03,"v":317}]
},
"resolve":{"scale":{"color":"independent","strokeDash":"independent","shape":"independent","stroke":"independent"},"legend":{"color":"independent","strokeDash":"independent","shape":"independent","stroke":"independent"}},
"spacing":6,
"vconcat":[
{"title":{"text":"39081"},"width":508,"height":226,
 "resolve":{"scale":{"y":"independent","color":"independent"},"legend":{"color":"independent"}},
 "layer":[
  {"layer":[
   {"data":{"name":"g1"},"mark":{"type":"line","strokeWidth":1,"opacity":0.6,"clip":true},
    "encoding":{"x":{"field":"t","type":"quantitative","scale":{"domain":[2006,2008],"nice":false,"zero":false},"axis":{"values":[2006,2006.5,2007,2007.5,2008],"format":".1f","title":null}},
     "y":{"field":"v","type":"quantitative","scale":{"domain":[0,28],"range":[75,0],"nice":false,"zero":false},"axis":{"orient":"left","values":[0,5,10,15,20,25],"title":null,"labelOverlap":false}},
     "color":{"datum":"Gauged","type":"nominal","scale":{"domain":["Gauged","Obs"],"range":["#808080","#ff0000"]},"legend":{"orient":"none","legendX":4,"legendY":4,"direction":"horizontal","title":null,"symbolType":"M-1,0H4.667","symbolSize":36,"labelOffset":19,"columnPadding":14}}}},
   {"data":{"name":"o1"},"mark":{"type":"line","strokeWidth":1,"opacity":0.6,"clip":true},
    "encoding":{"x":{"field":"t","type":"quantitative"},"y":{"field":"v","type":"quantitative"},"color":{"datum":"Obs","type":"nominal"}}}
  ]},
  {"resolve":{"scale":{"y":"independent"}},
   "layer":[
   {"data":{"name":"g1"},"mark":{"type":"line","opacity":0},
    "encoding":{"x":{"field":"t","type":"quantitative"},
     "y":{"field":"v","type":"quantitative","scale":{"domain":[0,28],"range":[151,75],"nice":false,"zero":false},"axis":{"orient":"left","title":"Daily mean flow (m³ s⁻¹)","labels":false,"ticks":false,"titlePadding":33}}}},
   {"layer":[
    {"data":{"name":"g1"},"mark":{"type":"line","strokeWidth":1,"opacity":0.6,"clip":true},
     "encoding":{"x":{"field":"t","type":"quantitative"},
      "y":{"field":"v","type":"quantitative","scale":{"domain":[0,28],"range":[151,75],"nice":false,"zero":false},"axis":{"orient":"right","values":[0,5,10,15,20,25],"title":null,"labelOverlap":false}},
      "color":{"datum":"Gauged","type":"nominal","scale":{"domain":["Gauged","12km RCM"],"range":["#808080","#008000"]},"legend":{"orient":"none","legendX":4,"legendY":79,"direction":"horizontal","title":null,"symbolType":"M-1,0H4.667","symbolSize":36,"labelOffset":19,"columnPadding":14}}}},
    {"data":{"name":"a1"},"mark":{"type":"line","strokeWidth":1,"opacity":0.6,"clip":true},
     "encoding":{"x":{"field":"t","type":"quantitative"},"y":{"field":"v","type":"quantitative"},"color":{"datum":"12km RCM","type":"nominal"}}},
    {"data":{"name":"one"},"mark":{"type":"rule","color":"black","strokeWidth":1},"encoding":{"y":{"datum":0,"type":"quantitative"}}},
    {"data":{"name":"one"},"mark":{"type":"rule","color":"black","strokeWidth":1},"encoding":{"y":{"datum":28,"type":"quantitative"}}}
   ]}
  ]},
  {"layer":[
   {"data":{"name":"g1"},"mark":{"type":"line","strokeWidth":1,"opacity":0.6,"clip":true},
    "encoding":{"x":{"field":"t","type":"quantitative"},
     "y":{"field":"v","type":"quantitative","scale":{"domain":[0,28],"range":[226,151],"nice":false,"zero":false},"axis":{"orient":"left","values":[0,5,10,15,20,25],"title":null,"labelOverlap":false}},
     "color":{"datum":"Gauged","type":"nominal","scale":{"domain":["Gauged","1.5km RCM"],"range":["#808080","#0000ff"]},"legend":{"orient":"none","legendX":4,"legendY":155,"direction":"horizontal","title":null,"symbolType":"M-1,0H4.667","symbolSize":36,"labelOffset":19,"columnPadding":14}}}},
   {"data":{"name":"b1"},"mark":{"type":"line","strokeWidth":1,"opacity":0.6,"clip":true},
    "encoding":{"x":{"field":"t","type":"quantitative"},"y":{"field":"v","type":"quantitative"},"color":{"datum":"1.5km RCM","type":"nominal"}}}
  ]}
 ]},
{"spacing":22,
 "resolve":{"scale":{"color":"independent","strokeDash":"independent","shape":"independent","stroke":"independent"},"legend":{"color":"independent","strokeDash":"independent","shape":"independent","stroke":"independent"}},
 "hconcat":[
 {"title":{"text":"\u2002","fontSize":4,"offset":6},"width":219,"height":132,"data":{"name":"fdc1"},
  "mark":{"type":"line","strokeWidth":2,"clip":true},
  "encoding":{
   "x":{"field":"p","type":"quantitative","scale":{"domain":[0,100],"nice":false},"axis":{"values":[0,20,40,60,80,100],"title":"% time flow exceeded","titlePadding":10}},
   "y":{"field":"v","type":"quantitative","scale":{"domain":[0,11.3],"nice":false},"axis":{"values":[0,2,4,6,8,10],"title":"Daily mean flow (m³ s⁻¹)","titlePadding":16,"labelOverlap":false}},
   "color":{"field":"s","type":"nominal","scale":{"domain":["Gauged","Obs","12km RCM","1.5km RCM"],"range":["#aaaaaa","#ff0000","#008000","#0000ff"]},"legend":{"orient":"top-right","title":null,"offset":1,"symbolType":"M-1,0H4","symbolSize":36,"labelOffset":19}},
   "strokeDash":{"field":"s","type":"nominal","scale":{"domain":["Gauged","Obs","12km RCM","1.5km RCM"],"range":[[1,0],[8,5],[5,3,1.5,3],[1.5,3]]}}
  }},
 {"width":221,"height":132,
  "resolve":{"scale":{"shape":"independent","stroke":"independent"},"legend":{"shape":"independent","stroke":"independent"}},
  "layer":[
   {"data":{"name":"rl1"},"mark":{"type":"line","strokeWidth":2,"clip":true},
    "encoding":{
     "x":{"field":"T","type":"quantitative","scale":{"type":"log","domain":[0.915,39.4],"nice":false},"axis":{"values":[1,2,3,4,5,6,7,8,9,10,20,30],"labelExpr":"datum.value==1||datum.value==10?format(datum.value,'.1f'):''","title":"Return period (years)","titlePadding":10,"labelOverlap":false}},
     "y":{"field":"v","type":"quantitative","scale":{"domain":[0,72],"nice":false},"axis":{"values":[0,10,20,30,40,50,60,70],"tickCount":8,"title":"Daily mean flow peak (m³ s⁻¹)","titlePadding":18,"labelOverlap":false}},
     "color":{"field":"s","type":"nominal","scale":{"domain":["Gauged","Obs","12km RCM","1.5km RCM"],"range":["#aaaaaa","#ff0000","#008000","#0000ff"]},"legend":{"orient":"none","legendX":2,"legendY":1,"title":null,"symbolType":"M-1,0H4M38,0h0.001","symbolSize":36,"labelOffset":19,"zindex":0}},
     "strokeDash":{"field":"s","type":"nominal","scale":{"domain":["Gauged","Obs","12km RCM","1.5km RCM"],"range":[[1,0],[8,5],[5,3,1.5,3],[1.5,3]]}}
    }},
   {"data":{"name":"rp1"},"mark":{"type":"point","filled":false,"size":40,"strokeWidth":1,"opacity":0.5,"clip":true},
    "encoding":{
     "x":{"field":"T","type":"quantitative","axis":{"values":[1,2,3,4,5,6,7,8,9,10,20,30],"labelExpr":"datum.value==1||datum.value==10?format(datum.value,'.1f'):''","title":"Return period (years)","titlePadding":10,"labelOverlap":false}},
     "y":{"field":"v","type":"quantitative","axis":{"values":[0,10,20,30,40,50,60,70],"tickCount":8,"title":"Daily mean flow peak (m³ s⁻¹)","titlePadding":18,"labelOverlap":false}},
     "shape":{"field":"s","type":"nominal","sort":["Gauged","Obs","12km RCM","1.5km RCM"],"scale":{"range":["square","circle","triangle-down","triangle-up"]},"legend":null},
     "stroke":{"field":"s","type":"nominal","sort":["Gauged","Obs","12km RCM","1.5km RCM"],"scale":{"range":["#888888","#ff0000","#008000","#0000ff"]},"legend":null}
    }},
   {"data":{"name":"rp1"},"mark":{"type":"point","filled":false,"opacity":0},
    "encoding":{
     "x":{"field":"T","type":"quantitative","axis":{"values":[1,2,3,4,5,6,7,8,9,10,20,30],"labelExpr":"datum.value==1||datum.value==10?format(datum.value,'.1f'):''","title":"Return period (years)","titlePadding":10,"labelOverlap":false}},
     "y":{"field":"v","type":"quantitative","axis":{"values":[0,10,20,30,40,50,60,70],"tickCount":8,"title":"Daily mean flow peak (m³ s⁻¹)","titlePadding":18,"labelOverlap":false}},
     "shape":{"field":"s","type":"nominal","sort":["Gauged","Obs","12km RCM","1.5km RCM"],"scale":{"range":["M-3.5,-1H-1.5V1H-3.5Z M-1,-1H1V1H-1Z M1.5,-1H3.5V1H1.5Z","M-1.2,0A1,1 0 1,1 -3.2,0A1,1 0 1,1 -1.2,0Z M1,0A1,1 0 1,1 -1,0A1,1 0 1,1 1,0Z M3.2,0A1,1 0 1,1 1.2,0A1,1 0 1,1 3.2,0Z","M-3.5,-1H-1.5L-2.5,1Z M-1,-1H1L0,1Z M1.5,-1H3.5L2.5,1Z","M-3.5,1H-1.5L-2.5,-1Z M-1,1H1L0,-1Z M1.5,1H3.5L2.5,-1Z"]},
      "legend":{"orient":"none","legendX":102.5,"legendY":5,"title":null,"labelExpr":"''","labelFontSize":1,"strokeColor":"transparent","fillColor":"transparent","padding":0,"symbolSize":36,"symbolOpacity":1,"symbolStrokeWidth":1.5,"symbolFillColor":"transparent","rowPadding":0,"zindex":1}},
     "stroke":{"field":"s","type":"nominal","sort":["Gauged","Obs","12km RCM","1.5km RCM"],"scale":{"range":["#888888","#ff0000","#008000","#0000ff"]},
      "legend":{"orient":"none","legendX":102.5,"legendY":5,"title":null,"labelExpr":"''","labelFontSize":1,"strokeColor":"transparent","fillColor":"transparent","padding":0,"symbolSize":36,"symbolOpacity":1,"symbolStrokeWidth":1.5,"symbolFillColor":"transparent","rowPadding":0,"zindex":1}}
    }}
  ]}
 ]},
{"title":{"text":["\u2002","55023"],"offset":4},"width":508,"height":230,
 "resolve":{"scale":{"y":"independent","color":"independent"},"legend":{"color":"independent"}},
 "layer":[
  {"layer":[
   {"data":{"name":"g2"},"mark":{"type":"line","strokeWidth":1,"opacity":0.6,"clip":true},
    "encoding":{"x":{"field":"t","type":"quantitative","scale":{"domain":[2006,2008],"nice":false,"zero":false},"axis":{"values":[2006,2006.5,2007,2007.5,2008],"format":".1f","title":null}},
     "y":{"field":"v","type":"quantitative","scale":{"domain":[0,550],"range":[77,0],"nice":false,"zero":false},"axis":{"orient":"left","values":[0,100,200,300,400,500],"title":null,"labelOverlap":false}},
     "color":{"datum":"Gauged","type":"nominal","scale":{"domain":["Gauged","Obs"],"range":["#808080","#ff0000"]},"legend":{"orient":"none","legendX":4,"legendY":4,"direction":"horizontal","title":null,"symbolType":"M-1,0H4.667","symbolSize":36,"labelOffset":19,"columnPadding":14}}}},
   {"data":{"name":"o2"},"mark":{"type":"line","strokeWidth":1,"opacity":0.6,"clip":true},
    "encoding":{"x":{"field":"t","type":"quantitative"},"y":{"field":"v","type":"quantitative"},"color":{"datum":"Obs","type":"nominal"}}}
  ]},
  {"resolve":{"scale":{"y":"independent"}},
   "layer":[
   {"data":{"name":"g2"},"mark":{"type":"line","opacity":0},
    "encoding":{"x":{"field":"t","type":"quantitative"},
     "y":{"field":"v","type":"quantitative","scale":{"domain":[0,550],"range":[153,77],"nice":false,"zero":false},"axis":{"orient":"left","title":"Daily mean flow (m³ s⁻¹)","labels":false,"ticks":false,"titlePadding":33}}}},
   {"layer":[
    {"data":{"name":"g2"},"mark":{"type":"line","strokeWidth":1,"opacity":0.6,"clip":true},
     "encoding":{"x":{"field":"t","type":"quantitative"},
      "y":{"field":"v","type":"quantitative","scale":{"domain":[0,550],"range":[153,77],"nice":false,"zero":false},"axis":{"orient":"right","values":[0,100,200,300,400,500],"title":null,"labelOverlap":false}},
      "color":{"datum":"Gauged","type":"nominal","scale":{"domain":["Gauged","12km RCM"],"range":["#808080","#008000"]},"legend":{"orient":"none","legendX":4,"legendY":81,"direction":"horizontal","title":null,"symbolType":"M-1,0H4.667","symbolSize":36,"labelOffset":19,"columnPadding":14}}}},
    {"data":{"name":"a2"},"mark":{"type":"line","strokeWidth":1,"opacity":0.6,"clip":true},
     "encoding":{"x":{"field":"t","type":"quantitative"},"y":{"field":"v","type":"quantitative"},"color":{"datum":"12km RCM","type":"nominal"}}},
    {"data":{"name":"one"},"mark":{"type":"rule","color":"black","strokeWidth":1},"encoding":{"y":{"datum":0,"type":"quantitative"}}},
    {"data":{"name":"one"},"mark":{"type":"rule","color":"black","strokeWidth":1},"encoding":{"y":{"datum":550,"type":"quantitative"}}}
   ]}
  ]},
  {"layer":[
   {"data":{"name":"g2"},"mark":{"type":"line","strokeWidth":1,"opacity":0.6,"clip":true},
    "encoding":{"x":{"field":"t","type":"quantitative"},
     "y":{"field":"v","type":"quantitative","scale":{"domain":[0,550],"range":[230,153],"nice":false,"zero":false},"axis":{"orient":"left","values":[0,100,200,300,400,500],"title":null,"labelOverlap":false}},
     "color":{"datum":"Gauged","type":"nominal","scale":{"domain":["Gauged","1.5km RCM"],"range":["#808080","#0000ff"]},"legend":{"orient":"none","legendX":4,"legendY":157,"direction":"horizontal","title":null,"symbolType":"M-1,0H4.667","symbolSize":36,"labelOffset":19,"columnPadding":14}}}},
   {"data":{"name":"b2"},"mark":{"type":"line","strokeWidth":1,"opacity":0.6,"clip":true},
    "encoding":{"x":{"field":"t","type":"quantitative"},"y":{"field":"v","type":"quantitative"},"color":{"datum":"1.5km RCM","type":"nominal"}}}
  ]}
 ]},
{"spacing":18,
 "resolve":{"scale":{"color":"independent","strokeDash":"independent","shape":"independent","stroke":"independent"},"legend":{"color":"independent","strokeDash":"independent","shape":"independent","stroke":"independent"}},
 "hconcat":[
 {"title":{"text":"\u2002","fontSize":4,"offset":1},"width":219,"height":138,"data":{"name":"fdc2"},
  "mark":{"type":"line","strokeWidth":2,"clip":true},
  "encoding":{
   "x":{"field":"p","type":"quantitative","scale":{"domain":[0,100],"nice":false},"axis":{"values":[0,20,40,60,80,100],"title":"% time flow exceeded","titlePadding":10}},
   "y":{"field":"v","type":"quantitative","scale":{"domain":[0,478],"nice":false},"axis":{"values":[0,100,200,300,400],"title":"Daily mean flow (m³ s⁻¹)","titlePadding":13,"labelOverlap":false}},
   "color":{"field":"s","type":"nominal","scale":{"domain":["Gauged","Obs","12km RCM","1.5km RCM"],"range":["#aaaaaa","#ff0000","#008000","#0000ff"]},"legend":{"orient":"top-right","title":null,"offset":1,"symbolType":"M-1,0H4","symbolSize":36,"labelOffset":19}},
   "strokeDash":{"field":"s","type":"nominal","scale":{"domain":["Gauged","Obs","12km RCM","1.5km RCM"],"range":[[1,0],[8,5],[5,3,1.5,3],[1.5,3]]}}
  }},
 {"width":221,"height":138,
  "resolve":{"scale":{"shape":"independent","stroke":"independent"},"legend":{"shape":"independent","stroke":"independent"}},
  "layer":[
   {"data":{"name":"rl2"},"mark":{"type":"line","strokeWidth":2,"clip":true},
    "encoding":{
     "x":{"field":"T","type":"quantitative","scale":{"type":"log","domain":[0.915,39.4],"nice":false},"axis":{"values":[1,2,3,4,5,6,7,8,9,10,20,30],"labelExpr":"datum.value==1||datum.value==10?format(datum.value,'.1f'):''","title":"Return period (years)","titlePadding":10,"labelOverlap":false}},
     "y":{"field":"v","type":"quantitative","scale":{"domain":[0,955],"nice":false},"axis":{"values":[0,200,400,600,800],"tickCount":5,"title":"Daily mean flow peak (m³ s⁻¹)","titlePadding":17,"labelOverlap":false}},
     "color":{"field":"s","type":"nominal","scale":{"domain":["Gauged","Obs","12km RCM","1.5km RCM"],"range":["#aaaaaa","#ff0000","#008000","#0000ff"]},"legend":{"orient":"none","legendX":96,"legendY":80,"title":null,"symbolType":"M-1,0H4M37,0h0.001","symbolSize":36,"labelOffset":19,"zindex":0}},
     "strokeDash":{"field":"s","type":"nominal","scale":{"domain":["Gauged","Obs","12km RCM","1.5km RCM"],"range":[[1,0],[8,5],[5,3,1.5,3],[1.5,3]]}}
    }},
   {"data":{"name":"rp2"},"mark":{"type":"point","filled":false,"size":40,"strokeWidth":1,"opacity":0.5,"clip":true},
    "encoding":{
     "x":{"field":"T","type":"quantitative","axis":{"values":[1,2,3,4,5,6,7,8,9,10,20,30],"labelExpr":"datum.value==1||datum.value==10?format(datum.value,'.1f'):''","title":"Return period (years)","titlePadding":10,"labelOverlap":false}},
     "y":{"field":"v","type":"quantitative","axis":{"values":[0,200,400,600,800],"tickCount":5,"title":"Daily mean flow peak (m³ s⁻¹)","titlePadding":17,"labelOverlap":false}},
     "shape":{"field":"s","type":"nominal","sort":["Gauged","Obs","12km RCM","1.5km RCM"],"scale":{"range":["square","circle","triangle-down","triangle-up"]},"legend":null},
     "stroke":{"field":"s","type":"nominal","sort":["Gauged","Obs","12km RCM","1.5km RCM"],"scale":{"range":["#888888","#ff0000","#008000","#0000ff"]},"legend":null}
    }},
   {"data":{"name":"rp2"},"mark":{"type":"point","filled":false,"opacity":0},
    "encoding":{
     "x":{"field":"T","type":"quantitative","axis":{"values":[1,2,3,4,5,6,7,8,9,10,20,30],"labelExpr":"datum.value==1||datum.value==10?format(datum.value,'.1f'):''","title":"Return period (years)","titlePadding":10,"labelOverlap":false}},
     "y":{"field":"v","type":"quantitative","axis":{"values":[0,200,400,600,800],"tickCount":5,"title":"Daily mean flow peak (m³ s⁻¹)","titlePadding":17,"labelOverlap":false}},
     "shape":{"field":"s","type":"nominal","sort":["Gauged","Obs","12km RCM","1.5km RCM"],"scale":{"range":["M-3.5,-1H-1.5V1H-3.5Z M-1,-1H1V1H-1Z M1.5,-1H3.5V1H1.5Z","M-1.2,0A1,1 0 1,1 -3.2,0A1,1 0 1,1 -1.2,0Z M1,0A1,1 0 1,1 -1,0A1,1 0 1,1 1,0Z M3.2,0A1,1 0 1,1 1.2,0A1,1 0 1,1 3.2,0Z","M-3.5,-1H-1.5L-2.5,1Z M-1,-1H1L0,1Z M1.5,-1H3.5L2.5,1Z","M-3.5,1H-1.5L-2.5,-1Z M-1,1H1L0,-1Z M1.5,1H3.5L2.5,-1Z"]},
      "legend":{"orient":"none","legendX":195.5,"legendY":87,"title":null,"labelExpr":"''","labelFontSize":1,"strokeColor":"transparent","fillColor":"transparent","padding":0,"symbolSize":36,"symbolOpacity":1,"symbolStrokeWidth":1.5,"symbolFillColor":"transparent","rowPadding":0,"zindex":1}},
     "stroke":{"field":"s","type":"nominal","sort":["Gauged","Obs","12km RCM","1.5km RCM"],"scale":{"range":["#888888","#ff0000","#008000","#0000ff"]},
      "legend":{"orient":"none","legendX":195.5,"legendY":87,"title":null,"labelExpr":"''","labelFontSize":1,"strokeColor":"transparent","fillColor":"transparent","padding":0,"symbolSize":36,"symbolOpacity":1,"symbolStrokeWidth":1.5,"symbolFillColor":"transparent","rowPadding":0,"zindex":1}}
    }}
  ]}
 ]}
]
}
